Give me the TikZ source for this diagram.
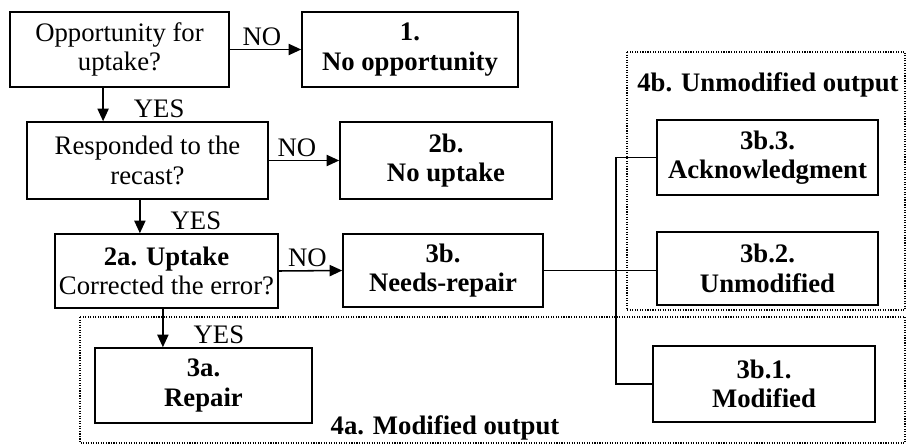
\documentclass[tikz,border=0pt]{standalone}
\usepackage{fontspec}
\setmainfont{Liberation Serif}
\usetikzlibrary{arrows.meta}

\tikzset{
    box/.style={draw, line width=1.1pt, align=center, inner sep=0pt, font=\fontsize{19}{21}\selectfont},
    endbox/.style={box, font=\fontsize{19}{21}\selectfont\bfseries},
    area/.style={draw, densely dotted, line width=.8pt},
    lbl/.style={font=\fontsize{19}{21}\selectfont, inner sep=2pt},
    arealbl/.style={font=\fontsize{19}{21}\selectfont\bfseries, inner sep=0pt},
    conn/.style={line width=1.1pt},
    >={Triangle[length=9pt,width=8pt]}
}

\begin{document}
\begin{tikzpicture}[x=0.025cm, y=-0.025cm]
        \useasboundingbox (0, 0) rectangle (908, 446);

        \draw[area](627, 52) rectangle (905, 310);
        \draw[area](80, 317) rectangle (905, 443);
        \node[arealbl] (l4b) at(768, 85){4b. Unmodified output};
        \node[arealbl] (l4a) at(445, 428){4a. Modified output};

        \node[box, minimum width=5.475cm, minimum height=1.875cm] (q1) at(119.5, 49.5){Opportunity for\\uptake?};
        \node[endbox, minimum width=5.4cm, minimum height=1.875cm] (noopp) at(410, 49.5){1.\\No opportunity};
        \node[box, minimum width=6.025cm, minimum height=1.925cm] (q2) at(147.5, 160.5){Responded to the\\recast?};
        \node[endbox, minimum width=5.3cm, minimum height=1.925cm] (noupt) at(446, 160.5){2b.\\No uptake};
        \node[box, minimum width=5.575cm, minimum height=1.85cm] (q3) at(166.5, 271){\textbf{2a. Uptake}\\Corrected the error?};
        \node[endbox, minimum width=5cm, minimum height=1.825cm] (needs) at(443, 270.5){3b.\\Needs-repair};
        \node[endbox, minimum width=5.425cm, minimum height=1.875cm] (repair) at(203.5, 385.5){3a.\\Repair};

        \node[endbox, minimum width=5.525cm, minimum height=1.875cm] (ack) at(767.5, 157.5){3b.3.\\Acknowledgment};
        \node[endbox, minimum width=5.525cm, minimum height=1.825cm] (unmod) at(767.5, 268.5){3b.2.\\Unmodified};
        \node[endbox, minimum width=5.55cm, minimum height=1.9cm] (mod) at(764, 384){3b.1.\\Modified};

        \draw[conn, ->](q1.east) to node[lbl, above, pos=.45]{NO} (noopp.west);
        \draw[conn, ->](q2.east) to node[lbl, above, pos=.4]{NO} (noupt.west);
        \draw[conn, ->](q3.east) to node[lbl, above, pos=.45]{NO} (needs.west);

        \draw[conn, ->]([xshift=-.41cm]q1.south) to ([xshift=-.41cm]q1.south |- q2.north)
            node[lbl, anchor=south west, xshift=.68cm]{YES};
        \draw[conn, ->]([xshift=-.19cm]q2.south) to ([xshift=-.19cm]q2.south |- q3.north)
            node[lbl, anchor=south west, xshift=.68cm]{YES};
        \draw[conn, ->]([xshift=-.09cm]q3.south) to ([xshift=-.09cm]q3.south |- repair.north)
            node[lbl, anchor=south west, xshift=.68cm]{YES};

        \coordinate (split) at(616, 269);
        \draw[conn](needs.east) to (needs.east -| unmod.west);
        \draw[conn](ack.west) -| (split) |- (mod.west);

\end{tikzpicture}
\end{document}
